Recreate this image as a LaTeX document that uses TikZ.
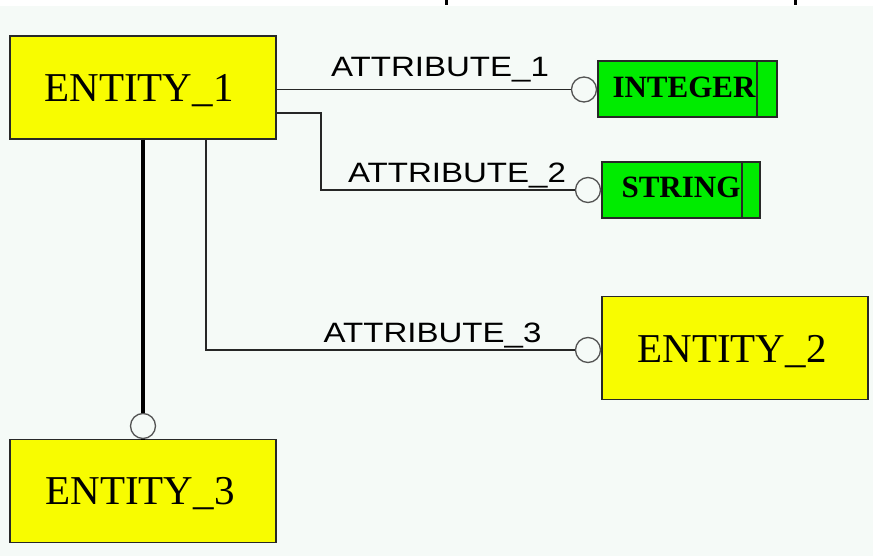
\documentclass[tikz,border=0pt]{standalone}
\usepackage{fontspec}
\setmainfont{Liberation Serif}
\newfontfamily\lsans{Liberation Sans}
\definecolor{bgc}{RGB}{245,250,247}
\definecolor{ylw}{RGB}{248,252,0}
\definecolor{grn}{RGB}{0,236,0}
\definecolor{edge}{RGB}{40,40,40}
\begin{document}
\begin{tikzpicture}[x=1pt,y=-1pt,
  entbox/.style={draw=edge,line width=1.5pt,fill=ylw,minimum width=266pt,minimum height=103pt,inner sep=0pt},
  typebox/.style={draw=edge,line width=1.5pt,fill=grn,inner sep=0pt},
  enttext/.style={font=\fontsize{41}{41}\selectfont,anchor=base,inner sep=0pt},
  typetext/.style={font=\fontsize{31}{31}\selectfont\bfseries,anchor=base,inner sep=0pt},
  attr/.style={font=\lsans\fontsize{28}{28}\selectfont,anchor=base,inner sep=0pt},
  ring/.style={circle,draw=edge!80,line width=1.3pt,fill=bgc,minimum size=25pt,inner sep=0pt},
  conn/.style={draw=black!85,line width=1.3pt},
  thick conn/.style={draw=black,line width=4.5pt}]
\useasboundingbox (0,0) rectangle (873,556);
\fill[white] (0,0) rectangle (873,6);
\fill[bgc] (0,6) rectangle (873,556);
\fill[black] (445,0) rectangle (447.5,5);
\fill[black] (794,0) rectangle (796.5,5);

% entities
\node[entbox] (e1) at (143,87.5) {};
\node[enttext] (t1) at (139,102) {ENTITY\_1};
\node[entbox] (e2) at (735,348) {};
\node[enttext] (t2) at (732,362) {ENTITY\_2};
\node[entbox] (e3) at (143,491) {};
\node[enttext] (t3) at (140,504) {ENTITY\_3};

% type boxes
\node[typebox,minimum width=179pt,minimum height=56pt] (g1) at (687.5,89) {};
\draw[edge,line width=1.5pt] (757,61) -- (757,117);
\node[typetext] (gt1) at (684,98) {INTEGER};
\node[typebox,minimum width=158pt,minimum height=56pt] (g2) at (681,190) {};
\draw[edge,line width=1.5pt] (742,162) -- (742,218);
\node[typetext] (gt2) at (681,198) {STRING};

% coordinates for bends
\coordinate (k2) at (321,113);
\coordinate (k3) at (206,350);

% rings
\node[ring] (c1) at (584,89.5) {};
\node[ring] (c2) at (588,190) {};
\node[ring] (c3) at (588,350) {};
\node[ring] (c4) at (143,426) {};

% connectors
\draw[conn] (c1.west -| e1.east) -- (c1.west);
\draw[conn] (k2 -| e1.east) -- (k2) |- (c2.west);
\draw[conn] (k3 |- e1.south) |- (c3.west);
\draw[thick conn] (c4.north |- e1.south) -- (c4.north);
\draw[thick conn] (c4.south) -- (c4.south |- e3.north);

% labels
\node[attr] (a1) at (440,77) {\scalebox{1.18}[1]{ATTRIBUTE\_1}};
\node[attr] (a2) at (457,183) {\scalebox{1.18}[1]{ATTRIBUTE\_2}};
\node[attr] (a3) at (432.5,342) {\scalebox{1.18}[1]{ATTRIBUTE\_3}};
\end{tikzpicture}
\end{document}
